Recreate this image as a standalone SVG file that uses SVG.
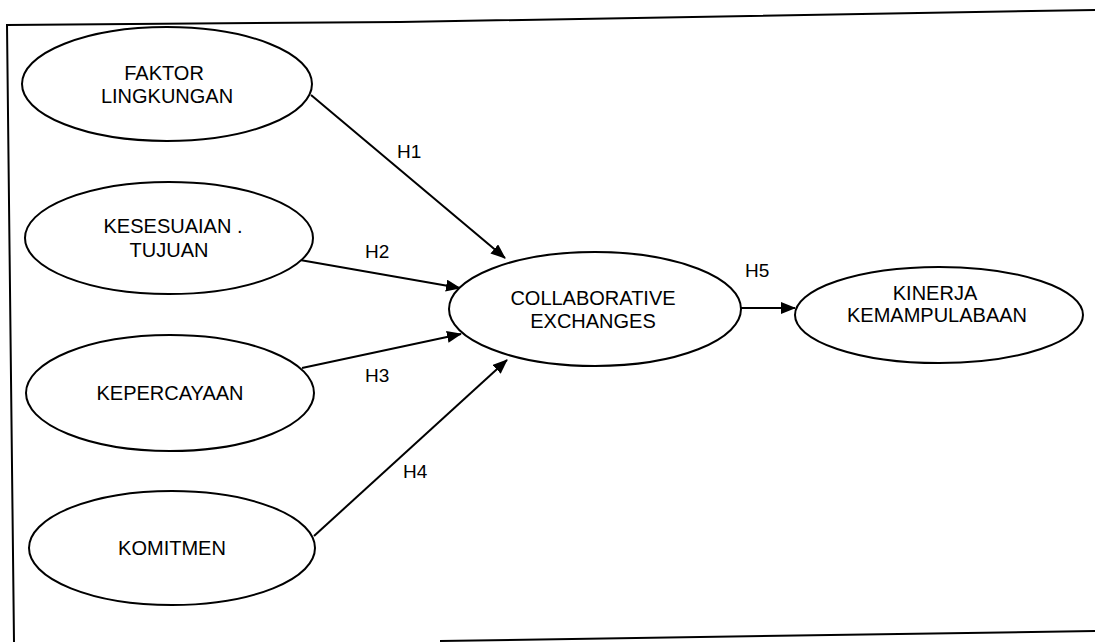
<svg xmlns="http://www.w3.org/2000/svg" width="1095" height="642" viewBox="0 0 1095 642">
  <style>
    .node ellipse { fill: #ffffff; stroke: #000000; stroke-width: 2; }
    .node text { font-family: "Liberation Sans", Arial, sans-serif; font-size: 20px; fill: #000000; text-anchor: middle; }
    .edge line { stroke: #000000; stroke-width: 2; marker-end: url(#arrow); }
    .lbl { font-family: "Liberation Sans", Arial, sans-serif; font-size: 19px; fill: #000000; }
    .frame { fill: none; stroke: #000000; stroke-width: 2; }
  </style>
  <defs>
    <marker id="arrow" viewBox="0 0 15 12" refX="14" refY="6" markerWidth="15" markerHeight="12" markerUnits="userSpaceOnUse" orient="auto">
      <path d="M0,0 L15,6 L0,12 Z" fill="#000000"/>
    </marker>
  </defs>
  <rect width="1095" height="642" fill="#ffffff"/>

  <!-- outer frame (open on the right) -->
  <polyline class="frame" points="1095,10 400,22 7,25 14,642"/>
  <line class="frame" x1="440" y1="641" x2="1095" y2="631"/>

  <!-- connectors -->
  <g id="connectors" class="edge">
    <line x1="311" y1="95" x2="505" y2="258"/>
    <line x1="300" y1="260" x2="460" y2="288"/>
    <line x1="302" y1="368" x2="461" y2="334"/>
    <line x1="314" y1="536" x2="507" y2="360"/>
    <line x1="740" y1="308" x2="795" y2="308"/>
    <text class="lbl" x="397" y="158">H1</text>
    <text class="lbl" x="365" y="258">H2</text>
    <text class="lbl" x="365" y="382">H3</text>
    <text class="lbl" x="403" y="478">H4</text>
    <text class="lbl" x="745" y="277">H5</text>
  </g>

  <g id="faktor-lingkungan" class="node">
    <ellipse cx="167" cy="84" rx="145" ry="57"/>
    <text x="164" y="80">FAKTOR</text>
    <text x="167" y="103">LINGKUNGAN</text>
  </g>

  <g id="kesesuaian-tujuan" class="node">
    <ellipse cx="169" cy="238" rx="144" ry="56"/>
    <text x="173" y="233">KESESUAIAN .</text>
    <text x="169" y="257">TUJUAN</text>
  </g>

  <g id="kepercayaan" class="node">
    <ellipse cx="170" cy="393" rx="144" ry="58"/>
    <text x="170" y="400">KEPERCAYAAN</text>
  </g>

  <g id="komitmen" class="node">
    <ellipse cx="172" cy="548" rx="143" ry="57"/>
    <text x="172" y="555">KOMITMEN</text>
  </g>

  <g id="collaborative-exchanges" class="node">
    <ellipse cx="595" cy="309" rx="146" ry="57"/>
    <text x="593" y="305">COLLABORATIVE</text>
    <text x="593" y="328">EXCHANGES</text>
  </g>

  <g id="kinerja-kemampulabaan" class="node">
    <ellipse cx="939" cy="315" rx="144" ry="48"/>
    <text x="935" y="300">KINERJA</text>
    <text x="937" y="322">KEMAMPULABAAN</text>
  </g>
</svg>
